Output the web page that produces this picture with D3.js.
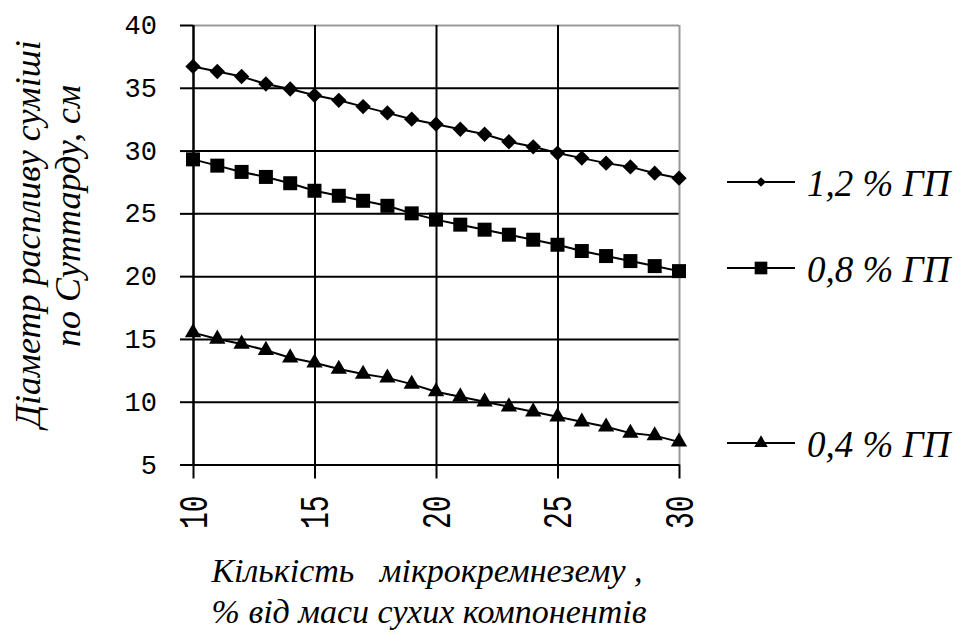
<!DOCTYPE html>
<html>
<head>
<meta charset="utf-8">
<script src="https://cdn.jsdelivr.net/npm/d3@7/dist/d3.min.js"></script>
<style>
  body { margin: 0; background: #fff; }
</style>
</head>
<body>
<div id="chart"></div>
<script>

// data
var xValues = [10, 11, 12, 13, 14, 15, 16, 17, 18, 19, 20, 21, 22, 23, 24, 25, 26, 27, 28, 29, 30];
var gp12 = [36.7, 36.3, 35.9, 35.3, 34.9, 34.4, 34.0, 33.5, 33.0, 32.5, 32.1, 31.7, 31.3, 30.7, 30.3, 29.8, 29.4, 29.0, 28.7, 28.2, 27.8];
var gp08 = [29.3, 28.8, 28.3, 27.9, 27.4, 26.8, 26.4, 26.0, 25.6, 25.0, 24.5, 24.1, 23.7, 23.3, 22.9, 22.5, 22.0, 21.6, 21.2, 20.8, 20.4];
var gp04 = [15.5, 15.0, 14.6, 14.1, 13.5, 13.1, 12.6, 12.2, 11.9, 11.4, 10.8, 10.4, 10.0, 9.6, 9.2, 8.8, 8.4, 8.0, 7.5, 7.3, 6.8];
var xTicks = [10, 15, 20, 25, 30];
var yTicks = [5, 10, 15, 20, 25, 30, 35, 40];
var legendLabels = ["1,2 % ГП", "0,8 % ГП", "0,4 % ГП"];
var yTitle = ["Діаметр распливу суміші", "по Суттарду, см"];
var xTitle = ["Кількість   мікрокремнезему ,", "% від маси сухих компонентів"];

var serif = "'Liberation Serif', 'Times New Roman', serif";
var mono = "'Liberation Mono', 'DejaVu Sans Mono', monospace";

var margin = { top: 25, left: 193 };
var width = 486, height = 439.5;

var svg = d3.select("#chart").append("svg")
    .attr("width", 964)
    .attr("height", 644);

var g = svg.append("g")
    .attr("transform", "translate(" + margin.left + "," + margin.top + ")");

var x = d3.scaleLinear().domain([10, 30]).range([0, width]);
var y = d3.scaleLinear().domain([5, 40]).range([height, 0]);

// grid
var yGrid = g.append("g")
    .call(d3.axisLeft(y).tickValues(yTicks).tickSize(-width).tickFormat(""));
yGrid.select(".domain").remove();
yGrid.selectAll("line")
    .attr("stroke", function(d){ return d == 40 ? "#999" : "#000"; })
    .attr("stroke-width", 2);

var xGrid = g.append("g")
    .call(d3.axisBottom(x).tickValues(xTicks).tickSize(-height).tickFormat(""))
    .attr("transform", "translate(0," + height + ")");
xGrid.select(".domain").remove();
xGrid.selectAll("line")
    .attr("stroke", function(d){ return d == 30 ? "#999" : "#000"; })
    .attr("stroke-width", 2);

// y axis
var yAxis = g.append("g")
    .call(d3.axisLeft(y).tickValues(yTicks).tickSize(13).tickSizeOuter(0).tickPadding(23));
yAxis.select(".domain").attr("stroke", "#000").attr("stroke-width", 2);
yAxis.selectAll("line").attr("stroke", "#000").attr("stroke-width", 2);
yAxis.selectAll("text")
    .style("font-family", mono)
    .style("font-size", "27px")
    .attr("fill", "#000");

// x axis, labels turned upright
var xAxis = g.append("g")
    .attr("transform", "translate(0," + height + ")")
    .call(d3.axisBottom(x).tickValues(xTicks).tickSize(14).tickSizeOuter(0));
xAxis.select(".domain").attr("stroke", "#000").attr("stroke-width", 2);
xAxis.selectAll("line").attr("stroke", "#000").attr("stroke-width", 2);
xAxis.selectAll("text")
    .style("font-family", mono)
    .style("font-size", "28px")
    .attr("fill", "#000")
    .attr("text-anchor", "end")
    .attr("dy", "0.35em")
    .attr("y", 0)
    .attr("transform", "translate(-1,31) rotate(-90) scale(1,1.45)");

// series
var series = [
    { values: gp12, symbol: d3.symbolDiamond2, size: 150, legendSize: 60, ly: 182 },
    { values: gp08, symbol: d3.symbolSquare, size: 196, legendSize: 160, ly: 268 },
    { values: gp04, symbol: d3.symbolTriangle, size: 115, legendSize: 80, ly: 443 }
];

var line = d3.line()
    .x(function(d){ return x(d.x); })
    .y(function(d){ return y(d.y); });

series.forEach(function(s, k){
    var pts = xValues.map(function(v, i){ return { x: v, y: s.values[i] }; });

    g.append("path")
        .datum(pts)
        .attr("d", line)
        .attr("fill", "none")
        .attr("stroke", "#000")
        .attr("stroke-width", 2);

    g.selectAll(".pt" + k)
        .data(pts)
        .enter()
        .append("path")
        .attr("class", "pt" + k)
        .attr("d", d3.symbol().type(s.symbol).size(s.size))
        .attr("transform", function(d){ return "translate(" + x(d.x) + "," + y(d.y) + ")"; })
        .attr("fill", "#000");

    // legend
    var lg = svg.append("g").attr("transform", "translate(727," + s.ly + ")");
    lg.append("line")
        .attr("x1", 0).attr("x2", 68)
        .attr("stroke", "#000").attr("stroke-width", 2);
    lg.append("path")
        .attr("d", d3.symbol().type(s.symbol).size(s.legendSize))
        .attr("transform", "translate(34,0)")
        .attr("fill", "#000");
    lg.append("text")
        .attr("x", 80)
        .attr("y", 14)
        .style("font-family", serif)
        .style("font-style", "italic")
        .style("font-size", "37px")
        .text(legendLabels[k]);
});

// axis titles
function title(txt, tr, x0, y0, fs){
    return svg.append("text")
        .attr("x", x0)
        .attr("y", y0)
        .attr("transform", tr)
        .attr("text-anchor", "middle")
        .style("font-family", serif)
        .style("font-style", "italic")
        .style("font-size", fs + "px")
        .style("white-space", "pre")
        .text(txt);
}
title(yTitle[0], "translate(40,234) rotate(-90)", 0, 0, 36);
title(yTitle[1], "translate(80,216) rotate(-90)", 0, 0, 36);
title(xTitle[0], null, 427, 582, 34);
title(xTitle[1], null, 429, 623, 34);

</script>
</body>
</html>
